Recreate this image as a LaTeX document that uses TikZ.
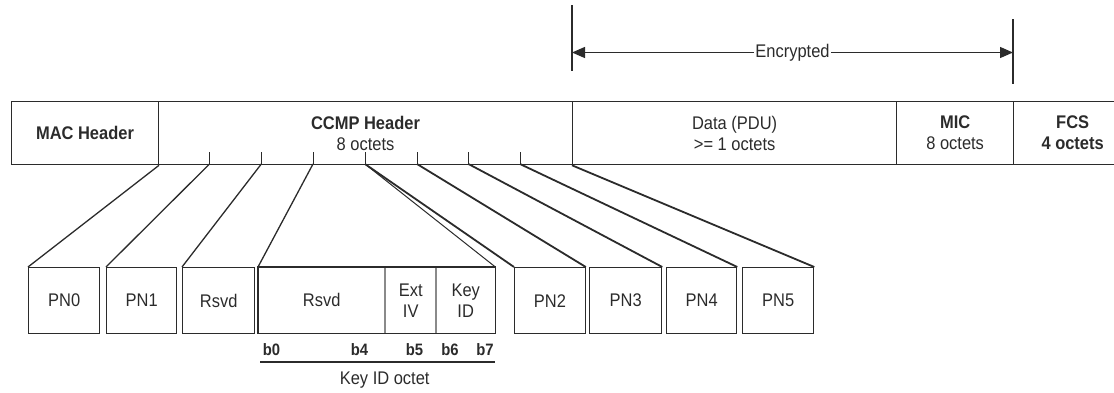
\documentclass[tikz,border=0pt]{standalone}
\usepackage{fontspec}
\setmainfont{Liberation Sans}[FakeStretch=0.9]
\usetikzlibrary{arrows.meta}
\definecolor{ink}{HTML}{2B2B2B}
\definecolor{divgray}{HTML}{8A8A8A}
\begin{document}
\begin{tikzpicture}[x=1pt,y=-1pt,
  txt/.style={font=\fontsize{18.3}{21}\selectfont, text=ink},
  seg/.style={draw=ink, line width=1.3pt, rectangle, anchor=north west,
    minimum height=63pt, inner sep=0pt, align=center, txt},
  fld/.style={draw=ink, line width=1.3pt, rectangle, anchor=north west,
    minimum height=66pt, inner sep=0pt, align=center, txt},
  sub/.style={rectangle, anchor=north west, minimum height=66pt,
    inner sep=0pt, align=center, txt},
  tickmark/.style={draw=ink, line width=1pt},
  fan/.style={draw=ink, line width=1.3pt},
  fanthick/.style={draw=ink, line width=1.8pt},
  divider/.style={draw=divgray, line width=1.1pt},
  bit/.style={font=\fontsize{16.5}{19}\selectfont\bfseries, text=ink, inner sep=0pt},
  encarrow/.style={draw=ink, line width=1.3pt,
    {Triangle[length=13pt,width=11pt]}-{Triangle[length=13pt,width=11pt]}},
]
\useasboundingbox (0,0) rectangle (1114,392);
\clip (0,0) rectangle (1114,392);

% ---- top frame bar ----
\node[seg, minimum width=146.7pt] (mac) at (11,101) {\textbf{MAC Header}};
\node[seg, minimum width=414.3pt] (ccmp) at (157.7,101) {\textbf{CCMP Header}\\8 octets};
\node[seg, minimum width=324pt] (data) at (572,101) {Data (PDU)\\\textgreater= 1 octets};
\node[seg, minimum width=117pt] (mic) at (896,101) {\textbf{MIC}\\8 octets};
\node[seg, minimum width=118pt] (fcs) at (1013,101) {\textbf{FCS}\\\textbf{4 octets}};

% ---- ticks on the CCMP header ----
\coordinate (t1) at (209.5,164);
\coordinate (t2) at (261.3,164);
\coordinate (t3) at (313,164);
\coordinate (t4) at (365,164);
\coordinate (t5) at (417,164);
\coordinate (t6) at (468.5,164);
\coordinate (t7) at (520,164);
\foreach \t in {t1,t2,t3,t4,t5,t6,t7}
  \draw[tickmark] (\t) -- ++(0,-12);

% ---- encrypted span ----
\coordinate (vL1) at (572,5);
\coordinate (vL2) at (572,71);
\coordinate (vR1) at (1013,19);
\coordinate (vR2) at (1013,84);
\coordinate (encL) at (572,52.5);
\coordinate (encR) at (1013,52.5);
\draw[ink, line width=1.3pt] (vL1) -- (vL2);
\draw[ink, line width=1.3pt] (vR1) -- (vR2);
\draw[encarrow] (encL) -- node[fill=white, inner sep=1.5pt, txt] (enc) {Encrypted} (encR);

% ---- expanded fields ----
\node[fld, minimum width=71pt] (pn0) at (28,267) {PN0};
\node[fld, minimum width=70pt] (pn1) at (106,267) {PN1};
\node[fld, minimum width=72pt] (rsvd) at (182,267) {Rsvd};
\node[sub, minimum width=127pt] (krsvd) at (258,267) {Rsvd};
\node[sub, minimum width=51pt] (ext) at (385,267) {Ext\\IV};
\node[sub, minimum width=59pt] (kid) at (436,267) {Key\\ID};
\draw[divider] (ext.north west) -- (ext.south west);
\draw[divider] (kid.north west) -- (kid.south west);
\draw[ink, line width=1.5pt] (krsvd.north west) rectangle (kid.south east);
\node[fld, minimum width=70.5pt] (pn2) at (514,267) {PN2};
\node[fld, minimum width=72pt] (pn3) at (589,267) {PN3};
\node[fld, minimum width=70pt] (pn4) at (666,267) {PN4};
\node[fld, minimum width=71pt] (pn5) at (742,267) {PN5};

% ---- fan connectors ----
\draw[fan] (mac.south east) -- (pn0.north west);
\draw[fan] (t1) -- (pn1.north west);
\draw[fan] (t2) -- (rsvd.north west);
\draw[fan] (t3) -- (krsvd.north west);
\draw[fan, line width=1pt] (t4) -- (kid.north east);
\draw[fanthick] (t4) -- (pn2.north west);
\draw[fanthick] (t5) -- (pn2.north east);
\draw[fanthick] (t6) -- (pn3.north east);
\draw[fanthick] (t7) -- (pn4.north east);
\draw[fanthick] (data.south west) -- (pn5.north east);

% ---- bit labels ----
\node[bit] (b0) at (271.5,350) {b0};
\node[bit] (b4) at (359.5,350) {b4};
\node[bit] (b5) at (414.5,350) {b5};
\node[bit] (b6) at (450,350) {b6};
\node[bit] (b7) at (485,350) {b7};
\coordinate (ulL) at (260,362);
\coordinate (ulR) at (495,362);
\draw[ink, line width=1.3pt] (ulL) -- (ulR);
\node[txt] (kio) at (384.7,380) {Key ID octet};
\end{tikzpicture}
\end{document}
